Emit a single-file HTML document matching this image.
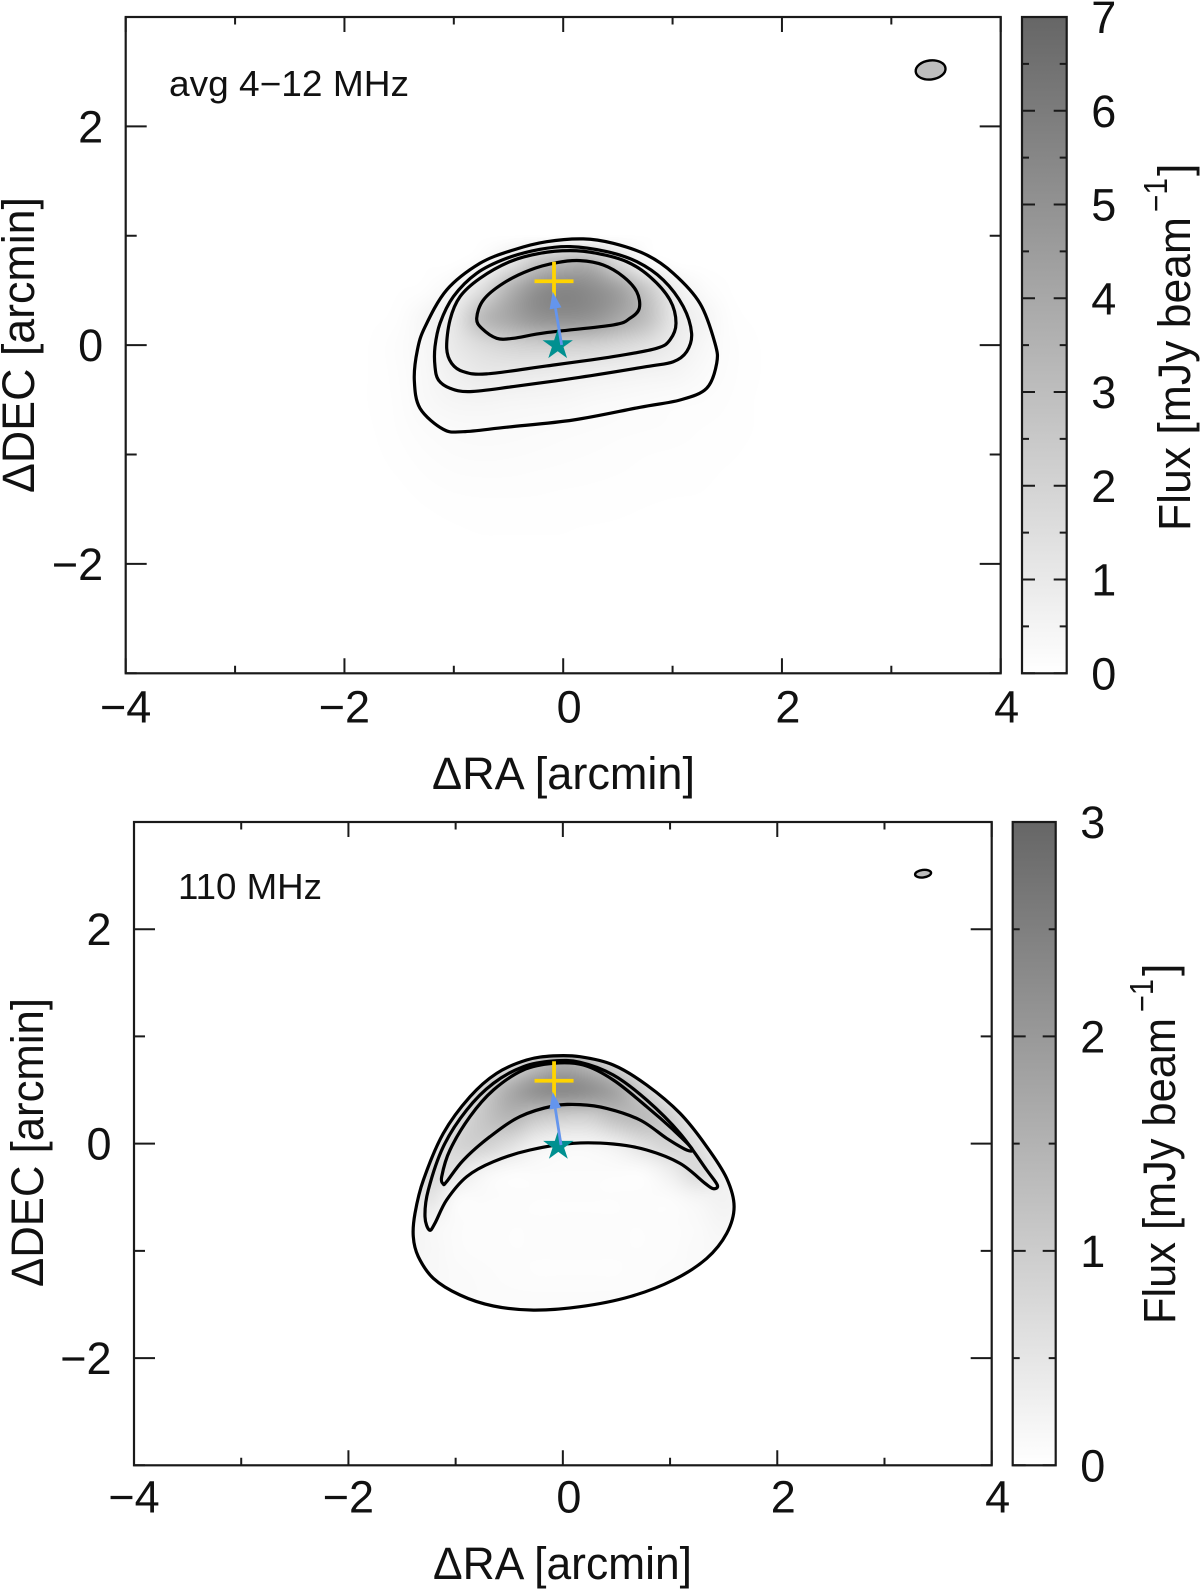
<!DOCTYPE html>
<html lang="en">
<head>
<meta charset="utf-8">
<title>Flux maps</title>
<style>
html,body{margin:0;padding:0;background:#fff;width:1200px;height:1589px;overflow:hidden}
#figure{position:relative;width:1200px;height:1589px;background:#fff}
canvas{position:absolute;display:block}
svg{position:absolute;left:0;top:0}
text{font-family:"Liberation Sans",Arial,sans-serif;fill:#111}
</style>
</head>
<body>
<div id="figure">
<canvas id="heat-top"></canvas>
<canvas id="heat-bottom"></canvas>
<svg id="chart" width="1200" height="1589" viewBox="0 0 1200 1589">
<defs>
<linearGradient id="ramp" x1="0" y1="1" x2="0" y2="0">
<stop offset="0" stop-color="#ffffff"/>
<stop offset="1" stop-color="#666666"/>
</linearGradient>
</defs>
<g id="layer"></g>
<text x="169" y="96" font-size="36" textLength="240" lengthAdjust="spacingAndGlyphs">avg 4−12 MHz</text>
<text x="432" y="789" font-size="45" textLength="263" lengthAdjust="spacingAndGlyphs">ΔRA [arcmin]</text>
<text transform="translate(34 493) rotate(-90)" font-size="45" textLength="296" lengthAdjust="spacingAndGlyphs">ΔDEC [arcmin]</text>
<text transform="translate(1190 531) rotate(-90)" font-size="45" textLength="314" lengthAdjust="spacingAndGlyphs">Flux [mJy beam</text>
<text transform="translate(1167 212) rotate(-90)" font-size="33" textLength="34" lengthAdjust="spacingAndGlyphs">−1</text>
<text transform="translate(1190 176) rotate(-90)" font-size="45">]</text>
<text x="178" y="899" font-size="36" textLength="144" lengthAdjust="spacingAndGlyphs">110 MHz</text>
<text x="433" y="1579" font-size="45" textLength="259" lengthAdjust="spacingAndGlyphs">ΔRA [arcmin]</text>
<text transform="translate(43 1287) rotate(-90)" font-size="45" textLength="289" lengthAdjust="spacingAndGlyphs">ΔDEC [arcmin]</text>
<text transform="translate(1175 1324) rotate(-90)" font-size="45" textLength="306" lengthAdjust="spacingAndGlyphs">Flux [mJy beam</text>
<text transform="translate(1153 1012) rotate(-90)" font-size="33" textLength="33" lengthAdjust="spacingAndGlyphs">−1</text>
<text transform="translate(1175 976) rotate(-90)" font-size="45">]</text>
</svg>
</div>
<script>
// ---- shared axis data (arcmin) ----
const xMajorTicks = [-4, -2, 0, 2, 4];
const xMinorTicks = [-3, -1, 1, 3];
const yMajorTicks = [-2, 0, 2];
const yMinorTicks = [-3, -1, 1, 3];
const fluxGridX = [-2, -1.75, -1.5, -1.25, -1, -0.75, -0.5, -0.25, 0, 0.25, 0.5, 0.75, 1, 1.25, 1.5, 1.75, 2];
const fluxGridY = [1.25, 1, 0.75, 0.5, 0.25, 0, -0.25, -0.5, -0.75, -1, -1.25, -1.5, -1.75, -2];

// ---- top panel: avg 4-12 MHz ----
const topFlux = [
[0,0,0,0,0,0,0,0,0,0,0,0,0,0,0,0,0],
[0,0,0,0,0,0,.01,.03,.06,.06,.03,.01,0,0,0,0,0],
[0,0,0,.01,.03,.3,1.2,2.6,3.4,3.4,1.8,.45,.05,0,0,0,0],
[0,0,.02,.1,.5,1.6,3.5,5,5.5,5.2,4.3,2.6,.9,.25,.03,0,0],
[0,.01,.08,.45,1.1,3,4,4.8,5,4.8,4,2.9,1.15,.55,.1,.01,0],
[0,.03,.14,.4,1,1.6,2,2.2,2.2,2.1,1.8,1.4,.85,.4,.12,.03,0],
[0,.03,.12,.35,.7,1,1,.95,.85,.75,.65,.55,.45,.25,.1,.03,0],
[0,.03,.1,.3,.45,.5,.45,.42,.38,.3,.25,.2,.15,.12,.07,.02,0],
[0,.02,.08,.18,.25,.27,.26,.23,.2,.17,.14,.12,.1,.07,.05,.02,0],
[0,.01,.05,.11,.16,.18,.17,.15,.13,.11,.09,.07,.06,.05,.03,.01,0],
[0,0,.02,.06,.09,.1,.1,.09,.08,.07,.06,.05,.04,.03,.01,0,0],
[0,0,0,.02,.04,.05,.05,.05,.04,.04,.03,.02,.01,.01,0,0,0],
[0,0,0,0,.01,.02,.02,.02,.02,.01,.01,.01,0,0,0,0,0],
[0,0,0,0,0,0,0,0,0,0,0,0,0,0,0,0,0]
];
const topContours = [
[[-1.361,-.318],[-1.309,-.577],[-1.096,-.769],[-.913,-.791],[-.516,-.750],[.092,-.684],[.702,-.568],[1.068,-.501],[1.312,-.394],[1.403,-.166],[1.388,.017],[1.250,.383],[1.007,.657],[.763,.825],[.458,.931],[.184,.971],[-.151,.946],[-.456,.870],[-.761,.748],[-1.065,.505],[-1.263,.169],[-1.333,-.044]],
[[-1.172,-.196],[-1.141,-.318],[-1.035,-.394],[-.852,-.425],[-.456,-.379],[.154,-.294],[.763,-.196],[1.007,-.151],[1.129,-.059],[1.174,.108],[1.098,.352],[.915,.596],[.672,.764],[.397,.855],[.062,.901],[-.212,.876],[-.517,.794],[-.791,.657],[-1.004,.444],[-1.126,.200],[-1.172,-.013]],
[[-1.065,-.029],[-1.020,-.166],[-.913,-.242],[-.700,-.263],[-.151,-.190],[.458,-.105],[.854,-.029],[.976,.048],[1.031,.200],[.976,.413],[.793,.626],[.580,.764],[.306,.840],[.062,.864],[-.212,.840],[-.486,.764],[-.761,.611],[-.943,.444],[-1.035,.230]],
[[-.791,.246],[-.745,.154],[-.608,.063],[-.456,.063],[-.151,.115],[.458,.185],[.611,.246],[.696,.337],[.672,.489],[.550,.626],[.367,.733],[.154,.773],[-.060,.754],[-.303,.687],[-.547,.566],[-.730,.413]]
];
const topColorMajor = [0, 1, 2, 3, 4, 5, 6, 7];
const topColorMinor = [0.5, 1.5, 2.5, 3.5, 4.5, 5.5, 6.5];
const topStar = [-0.05, 0];
const topCross = [-0.084, 0.584];
const topArrowTail = [-0.014, 0.002];
const topArrowTip = [-0.096, 0.489];
const topBeam = [3.359, 2.516, 0.137, 0.087];

// ---- bottom panel: 110 MHz ----
const bottomFlux = [
[0,0,0,0,0,0,0,0,0,0,0,0,0,0,0,0,0],
[0,0,0,0,0,0,0,.5,.8,.5,0,0,0,0,0,0,0],
[0,0,0,0,0,.3,.6,1.2,1.6,1.3,.7,.3,0,0,0,0,0],
[0,0,0,0,.3,.9,1.6,2.1,2.25,2.1,1.7,.9,.3,0,0,0,0],
[0,0,0,.2,.6,1.1,1.4,1.1,.95,.95,1.25,1.3,.9,.3,0,0,0],
[0,0,.05,.3,.8,.9,.65,.3,.2,.2,.35,.65,.85,.6,.12,0,0],
[0,0,.2,.7,.5,.22,.1,.08,.07,.07,.07,.1,.35,.7,.25,.03,0],
[0,.03,.25,.5,.12,.08,.06,.05,.05,.05,.05,.06,.08,.2,.25,.12,0],
[0,.03,.25,.18,.08,.06,.05,.05,.05,.05,.05,.05,.06,.1,.18,.08,0],
[0,0,.18,.15,.08,.06,.05,.05,.05,.05,.05,.05,.06,.1,.1,0,0],
[0,0,.05,.12,.1,.08,.06,.05,.05,.05,.05,.06,.08,.08,0,0,0],
[0,0,0,.05,.08,.08,.08,.08,.08,.08,.08,.06,.05,.02,0,0,0],
[0,0,0,0,0,.02,.04,.04,.04,.03,.02,.01,0,0,0,0,0],
[0,0,0,0,0,0,0,0,0,0,0,0,0,0,0,0,0]
];
const bottomContours = [
[[-1.395,-.868],[-1.348,-1.054],[-1.208,-1.256],[-.959,-1.412],[-.648,-1.514],[-.275,-1.552],[.160,-1.521],[.626,-1.427],[1.031,-1.272],[1.342,-1.070],[1.528,-.837],[1.597,-.588],[1.528,-.324],[1.342,-.028],[1.093,.283],[.782,.547],[.471,.734],[.160,.811],[-.089,.818],[-.338,.780],[-.617,.656],[-.866,.438],[-1.115,.096],[-1.301,-.339],[-1.379,-.650]],
[[-1.245,-.806],[-1.286,-.681],[-1.255,-.432],[-1.115,-.028],[-.897,.314],[-.648,.563],[-.369,.718],[-.089,.771],[.160,.759],[.471,.640],[.782,.407],[1.093,.096],[1.342,-.246],[1.441,-.386],[1.404,-.420],[1.326,-.370],[1.093,-.184],[.782,-.059],[.471,-.003],[.098,.003],[-.306,-.059],[-.648,-.168],[-.897,-.308],[-1.084,-.526],[-1.193,-.743]],
[[-1.115,-.376],[-1.130,-.308],[-1.053,-.059],[-.866,.252],[-.648,.500],[-.369,.687],[-.089,.749],[.191,.734],[.471,.594],[.782,.345],[1.031,.127],[1.202,-.044],[1.155,-.059],[.968,.050],[.720,.221],[.409,.329],[.160,.364],[-.089,.351],[-.400,.252],[-.680,.065],[-.928,-.153],[-1.084,-.355]]
];
const bottomColorMajor = [0, 1, 2, 3];
const bottomColorMinor = [0.5, 1.5, 2.5];
const bottomStar = [-0.042, -0.02];
const bottomCross = [-0.082, 0.587];
const bottomArrowTail = [-0.017, -0.013];
const bottomArrowTip = [-0.095, 0.484];
const bottomBeam = [3.36, 2.518, 0.075, 0.035];

const NS = 'http://www.w3.org/2000/svg';
const layer = document.getElementById('layer');
function mk(tag, attrs, parent) {
  const el = document.createElementNS(NS, tag);
  for (const k in attrs) el.setAttribute(k, attrs[k]);
  (parent || layer).appendChild(el);
  return el;
}
function fmt(v) { return String(v).replace('-', '\u2212'); }

function cubic(p0, p1, p2, p3, t) {
  return p1 + 0.5 * t * (p2 - p0 + t * (2 * p0 - 5 * p1 + 4 * p2 - p3 + t * (3 * (p1 - p2) + p3 - p0)));
}
function sampleGrid(rows, gx, gy) {
  const ny = rows.length, nx = rows[0].length;
  const i = Math.floor(gx), j = Math.floor(gy), fx = gx - i, fy = gy - j;
  const column = [];
  for (let b = -1; b <= 2; b++) {
    const row = rows[Math.min(ny - 1, Math.max(0, j + b))];
    column.push(cubic(
      row[Math.min(nx - 1, Math.max(0, i - 1))], row[Math.min(nx - 1, Math.max(0, i))],
      row[Math.min(nx - 1, Math.max(0, i + 1))], row[Math.min(nx - 1, Math.max(0, i + 2))], fx));
  }
  return cubic(column[0], column[1], column[2], column[3], fy);
}
function closedPath(points) {
  const n = points.length;
  let d = 'M' + points[0][0].toFixed(1) + ' ' + points[0][1].toFixed(1);
  for (let i = 0; i < n; i++) {
    const a = points[(i - 1 + n) % n], b = points[i], c = points[(i + 1) % n], e = points[(i + 2) % n];
    d += 'C' + (b[0] + (c[0] - a[0]) / 6).toFixed(1) + ' ' + (b[1] + (c[1] - a[1]) / 6).toFixed(1) + ' ' +
      (c[0] - (e[0] - b[0]) / 6).toFixed(1) + ' ' + (c[1] - (e[1] - b[1]) / 6).toFixed(1) + ' ' +
      c[0].toFixed(1) + ' ' + c[1].toFixed(1);
  }
  return d + 'Z';
}

function drawPanel(p) {
  const unit = (p.right - p.left) / 8;
  const X = v => p.left + (v + 4) * unit;
  const Y = v => p.bottom - (v + 3) * (p.bottom - p.top) / 6;
  const C = v => p.bottom - v * (p.bottom - p.top) / p.vmax;

  // heatmap
  const cv = document.getElementById(p.canvasId);
  const w = Math.round(p.right - p.left), h = Math.round(p.bottom - p.top);
  cv.width = w; cv.height = h;
  cv.style.left = p.left + 'px'; cv.style.top = p.top + 'px';
  cv.style.width = (p.right - p.left) + 'px'; cv.style.height = (p.bottom - p.top) + 'px';
  const off = document.createElement('canvas');
  off.width = w; off.height = h;
  const octx = off.getContext('2d');
  const img = octx.createImageData(w, h);
  const stepX = fluxGridX[1] - fluxGridX[0], stepY = fluxGridY[0] - fluxGridY[1];
  for (let py = 0; py < h; py++) {
    const dec = 3 - 6 * py / h;
    const gy = (fluxGridY[0] - dec) / stepY;
    for (let px = 0; px < w; px++) {
      const ra = -4 + 8 * px / w;
      const gx = (ra - fluxGridX[0]) / stepX;
      let v = 0;
      if (gx >= 0 && gx <= fluxGridX.length - 1 && gy >= 0 && gy <= fluxGridY.length - 1) v = sampleGrid(p.flux, gx, gy);
      v = Math.max(0, Math.min(p.vmax, v));
      const g = 255 - 153 * v / p.vmax;
      const o = (py * w + px) * 4;
      img.data[o] = img.data[o + 1] = img.data[o + 2] = g;
      img.data[o + 3] = 255;
    }
  }
  octx.putImageData(img, 0, 0);
  const ctx = cv.getContext('2d');
  ctx.fillStyle = '#fff';
  ctx.fillRect(0, 0, w, h);
  if (p.clipOuter) {
    ctx.clip(new Path2D(closedPath(p.contours[0].map(q => [X(q[0]) - p.left, Y(q[1]) - p.top]))));
  }
  ctx.drawImage(off, 0, 0);

  const group = mk('g', {});
  
  

  // contours
  p.contours.forEach(function (c) {
    const path = mk('path', { d: closedPath(c.map(q => [X(q[0]), Y(q[1])])), fill: 'none', stroke: '#000', 'stroke-width': 3.2, 'stroke-linejoin': 'round' }, group);
    
    
  });

  // cross
  const cx = X(p.cross[0]), cy = Y(p.cross[1]);
  const cross = mk('path', { d: 'M' + (cx - 19.5) + ' ' + cy + 'H' + (cx + 19.5) + 'M' + cx + ' ' + (cy - 19.5) + 'V' + (cy + 19.5), stroke: '#ffd400', 'stroke-width': 3.8, fill: 'none' }, group);
  
  

  // star
  const sx = X(p.star[0]), sy = Y(p.star[1]);
  const pts = [];
  for (let i = 0; i < 10; i++) {
    const r = i % 2 ? 6.1 : 16, a = -Math.PI / 2 + i * Math.PI / 5;
    pts.push((sx + r * Math.cos(a)).toFixed(1) + ',' + (sy + r * Math.sin(a)).toFixed(1));
  }
  const star = mk('polygon', { points: pts.join(' '), fill: '#009090' }, group);
  
  

  // arrow
  const ax = X(p.tail[0]), ay = Y(p.tail[1]), bx = X(p.tip[0]), by = Y(p.tip[1]);
  const L = Math.hypot(bx - ax, by - ay), ux = (bx - ax) / L, uy = (by - ay) / L;
  const hx = bx - ux * 17, hy = by - uy * 17;
  const shaft = mk('line', { x1: ax, y1: ay, x2: hx, y2: hy, stroke: '#6495ed', 'stroke-width': 2.8 }, group);
  
  
  const head = mk('polygon', { points: bx + ',' + by + ' ' + (hx - uy * 6) + ',' + (hy + ux * 6) + ' ' + (hx + uy * 6) + ',' + (hy - ux * 6), fill: '#6495ed' }, group);
  
  

  // beam
  const beam = mk('ellipse', { cx: X(p.beam[0]), cy: Y(p.beam[1]), rx: p.beam[2] * unit, ry: p.beam[3] * unit, fill: '#bdbdbd', stroke: '#000', 'stroke-width': 2.4, transform: 'rotate(-7 ' + X(p.beam[0]) + ' ' + Y(p.beam[1]) + ')' }, group);
  
  

  // frame
  const frame = mk('rect', { x: p.left, y: p.top, width: p.right - p.left, height: p.bottom - p.top, fill: 'none', stroke: '#1a1a1a', 'stroke-width': 2.2 }, group);
  
  

  // x ticks
  function xTick(v, len) {
    const t = mk('path', { d: 'M' + X(v) + ' ' + p.bottom + 'v' + (-len) + 'M' + X(v) + ' ' + p.top + 'v' + len, stroke: '#1a1a1a', 'stroke-width': 2 }, group);
    
    
  }
  xMajorTicks.forEach(v => xTick(v, 15));
  xMinorTicks.forEach(v => xTick(v, 7.5));
  xMajorTicks.forEach(function (v) {
    const t = mk('text', { x: X(v) + (v < 0 ? 0 : 6), y: p.bottom + p.xLabelGap, 'font-size': 45, 'text-anchor': 'middle' }, group);
    t.textContent = fmt(v);
    
    
  });

  // y ticks
  function yTick(v, len) {
    const t = mk('path', { d: 'M' + p.left + ' ' + Y(v) + 'h' + len + 'M' + p.right + ' ' + Y(v) + 'h' + (-len), stroke: '#1a1a1a', 'stroke-width': 2 }, group);
    
    
  }
  yMajorTicks.forEach(v => yTick(v, 21));
  yMinorTicks.forEach(v => yTick(v, 11));
  yMajorTicks.forEach(function (v) {
    const t = mk('text', { x: p.left - 22.5, y: Y(v) + 16, 'font-size': 45, 'text-anchor': 'end' }, group);
    t.textContent = fmt(v);
    
    
  });

  // colorbar
  const bar = mk('rect', { x: p.barLeft, y: p.top, width: p.barRight - p.barLeft, height: p.bottom - p.top, fill: 'url(#ramp)', stroke: '#1a1a1a', 'stroke-width': 2.2 }, group);
  
  
  function cTick(v, len) {
    const t = mk('path', { d: 'M' + p.barLeft + ' ' + C(v) + 'h' + len + 'M' + p.barRight + ' ' + C(v) + 'h' + (-len), stroke: '#1a1a1a', 'stroke-width': 2 }, group);
    
    
  }
  p.colorMajor.forEach(v => cTick(v, 13));
  p.colorMinor.forEach(v => cTick(v, 7));
  p.colorMajor.forEach(function (v) {
    const t = mk('text', { x: p.barRight + 24.5, y: C(v) + 16, 'font-size': 45 }, group);
    t.textContent = fmt(v);
    
    
  });
}

drawPanel({ name: 'top', canvasId: 'heat-top', left: 125.7, right: 1000.7, top: 17, bottom: 673.3, xLabelGap: 49.4,
  barLeft: 1022, barRight: 1066.7, vmax: 7, flux: topFlux, contours: topContours, clipOuter: false,
  colorMajor: topColorMajor, colorMinor: topColorMinor, star: topStar, cross: topCross,
  tail: topArrowTail, tip: topArrowTip, beam: topBeam });
drawPanel({ name: 'bottom', canvasId: 'heat-bottom', left: 134, right: 991.7, top: 822, bottom: 1465.3, xLabelGap: 47.4,
  barLeft: 1012.7, barRight: 1055.7, vmax: 3, flux: bottomFlux, contours: bottomContours, clipOuter: true,
  colorMajor: bottomColorMajor, colorMinor: bottomColorMinor, star: bottomStar, cross: bottomCross,
  tail: bottomArrowTail, tip: bottomArrowTip, beam: bottomBeam });
</script>
</body>
</html>
